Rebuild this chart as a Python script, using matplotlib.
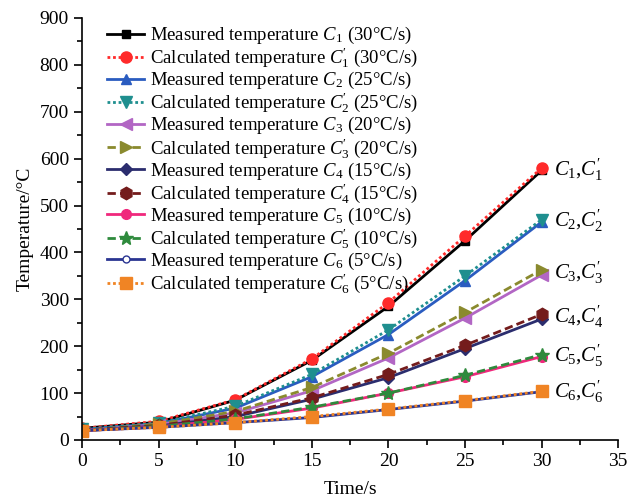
import matplotlib.pyplot as plt
import numpy as np

plt.rcParams['font.family'] = ['Liberation Serif', 'DejaVu Serif']
plt.rcParams['mathtext.fontset'] = 'custom'
plt.rcParams['mathtext.it'] = 'Liberation Serif:italic'
plt.rcParams['mathtext.rm'] = 'Liberation Serif'

time = [0, 5, 10, 15, 20, 25, 30]

c1 = [25, 38, 85, 170, 285, 425, 575]
c1p = [25, 40, 86, 173, 293, 435, 580]
c2 = [22, 35, 68, 135, 225, 340, 465]
c2p = [23, 36, 72, 140, 235, 350, 470]
c3 = [20, 33, 58, 105, 175, 260, 352]
c3p = [20, 34, 61, 112, 185, 272, 363]
c4 = [20, 30, 50, 87, 133, 195, 258]
c4p = [21, 31, 53, 90, 140, 202, 268]
c5 = [20, 28, 44, 68, 100, 135, 178]
c5p = [20, 29, 45, 70, 100, 138, 182]
c6 = [20, 27, 37, 48, 65, 83, 103]
c6p = [20, 27, 37, 50, 66, 84, 104]

labels = [
    r'Measured temperature $C_1$ (30°C/s)',
    r"Calculated temperature $C^{\prime}_1$ (30°C/s)",
    r'Measured temperature $C_2$ (25°C/s)',
    r"Calculated temperature $C^{\prime}_2$ (25°C/s)",
    r'Measured temperature $C_3$ (20°C/s)',
    r"Calculated temperature $C^{\prime}_3$ (20°C/s)",
    r'Measured temperature $C_4$ (15°C/s)',
    r"Calculated temperature $C^{\prime}_4$ (15°C/s)",
    r'Measured temperature $C_5$ (10°C/s)',
    r"Calculated temperature $C^{\prime}_5$ (10°C/s)",
    r'Measured temperature $C_6$ (5°C/s)',
    r"Calculated temperature $C^{\prime}_6$ (5°C/s)",
]
end_labels = [r"$C_1$,$C^{\prime}_1$", r"$C_2$,$C^{\prime}_2$", r"$C_3$,$C^{\prime}_3$",
              r"$C_4$,$C^{\prime}_4$", r"$C_5$,$C^{\prime}_5$", r"$C_6$,$C^{\prime}_6$"]

series = [c1, c1p, c2, c2p, c3, c3p, c4, c4p, c5, c5p, c6, c6p]
colors = ['#000000', '#ff2a2a', '#2a5cc0', '#1f8f8f', '#b266c4', '#8a8a2e',
          '#2b2d6e', '#741c1c', '#f0287c', '#2e8a3c', '#2a3592', '#f08424']
markers = ['s', 'o', '^', 'v', '<', '>', 'D', 'h', 'o', '*', 'o', 's']
styles = ['-', (0, (1, 1)), '-', (0, (1, 1)), '-', (0, (3, 1.5)), '-', (0, (3, 1.5)),
          '-', (0, (3, 1.5)), '-', (0, (1, 1))]
msizes = [6, 8, 7, 9, 8, 9, 6, 9, 7, 10, 5, 8]

fig, ax = plt.subplots(figsize=(6.27, 5.0), dpi=100)
fig.subplots_adjust(left=0.131, right=0.986, top=0.964, bottom=0.12)

for i, y in enumerate(series):
    mfc = 'white' if i == 10 else colors[i]
    ax.plot(time, y, color=colors[i], linestyle=styles[i], marker=markers[i],
            markersize=msizes[i], markerfacecolor=mfc, markeredgecolor=colors[i],
            linewidth=2, label=labels[i])

for j, lab in enumerate(end_labels):
    yv = (series[2 * j][-1] + series[2 * j + 1][-1]) / 2
    ax.text(30.8, yv, lab, fontsize=15, va='center', ha='left')

ax.set_xlim(0, 35)
ax.set_ylim(0, 900)
ax.set_xticks(np.arange(0, 36, 5))
ax.set_yticks(np.arange(0, 901, 100))
ax.set_xticks(np.arange(2.5, 35, 5), minor=True)
ax.set_yticks(np.arange(50, 900, 100), minor=True)
ax.tick_params(axis='both', which='major', direction='out', length=6, width=1.2, labelsize=14)
ax.tick_params(axis='both', which='minor', direction='out', length=3.5, width=1.2)
ax.spines['top'].set_visible(False)
ax.spines['right'].set_visible(False)
ax.spines['left'].set_linewidth(1.2)
ax.spines['bottom'].set_linewidth(1.2)
ax.set_xlabel('Time/s', fontsize=14, labelpad=8)
ax.set_ylabel('Temperature/°C', fontsize=14)

ax.legend(loc='upper left', frameon=False, fontsize=13.5, handlelength=2.0,
          labelspacing=0.0, handletextpad=0.3, borderaxespad=0.2,
          bbox_to_anchor=(0.025, 1.01))

fig.savefig('out.png', dpi=100)
